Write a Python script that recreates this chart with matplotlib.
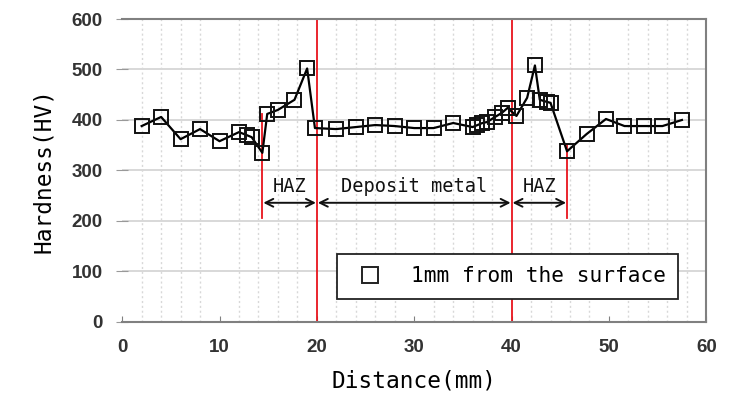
import matplotlib
matplotlib.use('Agg')
import matplotlib.pyplot as plt
from matplotlib.lines import Line2D
from matplotlib.ticker import MultipleLocator

# hardness profile, 1mm from the surface
dist = [2, 4, 6, 8, 10, 12, 12.8, 13.3, 14.4, 14.9, 16, 17.7, 19, 19.8,
        22, 24, 26, 28, 30, 32, 34, 36, 36.5, 37, 37.5, 38.3, 39, 39.6,
        40.5, 41.6, 42.4, 42.9, 43.6, 44, 45.7, 47.7, 49.7, 51.6, 53.6,
        55.5, 57.5]
hard = [388, 406, 362, 382, 358, 376, 370, 366, 335, 412, 420, 440, 502,
        384, 382, 386, 390, 388, 384, 384, 394, 386, 390, 394, 396, 406,
        414, 424, 408, 444, 508, 440, 436, 434, 338, 372, 402, 388, 388,
        388, 400]

# zone boundaries (mm) and the y range of each red line
bounds = [14.4, 20, 40, 45.7]
bound_lo = [206, 0, 0, 206]
bound_hi = [412, 600, 600, 350]

zones = ['HAZ', 'Deposit metal', 'HAZ']
zone_x = [(14.4, 20), (20, 40), (40, 45.7)]

mono = ['DejaVu Sans Mono']

fig = plt.figure(figsize=(7.45, 3.96), dpi=100)
ax = fig.add_axes([0.164, 0.187, 0.784, 0.765])

ax.set_xlim(0, 60)
ax.set_ylim(0, 600)
ax.xaxis.set_major_locator(MultipleLocator(10))
ax.xaxis.set_minor_locator(MultipleLocator(2))
ax.yaxis.set_major_locator(MultipleLocator(100))

ax.grid(which='major', axis='y', color='#d8d8d8', lw=1.4, zorder=0)
ax.grid(which='minor', axis='x', color='#d8d8d8', lw=1.0, ls=(0, (1.5, 2)), zorder=0)
ax.set_axisbelow(True)

for s in ['top', 'right', 'bottom']:
    ax.spines[s].set_color('#808080')
    ax.spines[s].set_linewidth(1.5)
ax.spines['left'].set_visible(False)

ax.tick_params(axis='x', which='major', direction='in', length=4, color='#808080',
               pad=12, labelsize=13.5, labelcolor='#333333')
ax.tick_params(axis='x', which='minor', length=0)
ax.tick_params(axis='y', direction='inout', length=8, color='#999999',
               pad=10, labelsize=13.5, labelcolor='#333333')
for lab in ax.get_xticklabels() + ax.get_yticklabels():
    lab.set_family('Liberation Sans')
    lab.set_fontweight('bold')

# boundary lines
for b, lo, hi in zip(bounds, bound_lo, bound_hi):
    ax.plot([b, b], [lo, hi], color='#e8141c', lw=1.3, zorder=2)

ax.plot(dist, hard, color='black', lw=1.6, marker='s', markersize=9.5,
        markerfacecolor='none', markeredgecolor='#111111', markeredgewidth=1.4,
        zorder=3)

# zone arrows and labels
for name, (x0, x1) in zip(zones, zone_x):
    ax.annotate('', xy=(x0 + 0.1, 236), xytext=(x1 - 0.1, 236),
                arrowprops=dict(arrowstyle='<->', color='#111111', lw=1.4,
                                mutation_scale=14, shrinkA=0, shrinkB=0))
    ax.text((x0 + x1) / 2, 258, name, ha='center', va='baseline', fontsize=13.4,
            family=mono, color='#111111')

handle = Line2D([], [], ls='none', marker='s', markersize=11,
                markerfacecolor='none', markeredgecolor='#222222', markeredgewidth=1.4)
leg = ax.legend([handle], ['1mm from the surface'], loc='lower right',
                bbox_to_anchor=(0.952, 0.076), borderaxespad=0, frameon=True,
                fancybox=False, edgecolor='#222222', framealpha=1, borderpad=0.6,
                handletextpad=0.9, prop={'family': mono, 'size': 15.2})
leg.get_frame().set_linewidth(1.3)
leg.set_zorder(5)

ax.set_xlabel('Distance(mm)', fontsize=16.4, family=mono, labelpad=10)
ax.set_ylabel('Hardness(HV)', fontsize=16.4, family=mono, labelpad=12)

fig.savefig('out.png', dpi=100)
